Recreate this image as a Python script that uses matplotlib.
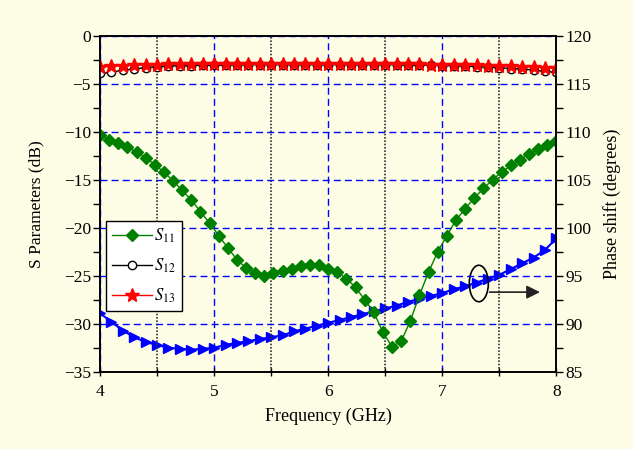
# S parameters and phase shift versus frequency
import matplotlib
matplotlib.use('Agg')
import matplotlib.pyplot as plt
from matplotlib.patches import Ellipse
from matplotlib.ticker import MultipleLocator

plt.rcParams['font.family'] = ['Liberation Serif', 'DejaVu Serif']
plt.rcParams['mathtext.fontset'] = 'stix'

# S11 sampled every 0.08 GHz
freq_s11 = [4.00, 4.08, 4.16, 4.24, 4.32, 4.40, 4.48, 4.56, 4.64, 4.72,
            4.80, 4.88, 4.96, 5.04, 5.12, 5.20, 5.28, 5.36, 5.44, 5.52,
            5.60, 5.68, 5.76, 5.84, 5.92, 6.00, 6.08, 6.16, 6.24, 6.32,
            6.40, 6.48, 6.56, 6.64, 6.72, 6.80, 6.88, 6.96, 7.04, 7.12,
            7.20, 7.28, 7.36, 7.44, 7.52, 7.60, 7.68, 7.76, 7.84, 7.92, 8.00]
s11 = [-10.3, -10.8, -11.2, -11.6, -12.1, -12.7, -13.4, -14.2, -15.1, -16.1,
       -17.1, -18.3, -19.5, -20.8, -22.1, -23.3, -24.2, -24.7, -25.0, -24.7,
       -24.5, -24.3, -24.0, -23.9, -23.9, -24.3, -24.6, -25.3, -26.2, -27.5,
       -28.8, -30.9, -32.4, -31.8, -29.7, -27.0, -24.6, -22.5, -20.8, -19.2,
       -18.0, -16.9, -15.9, -15.0, -14.2, -13.5, -12.9, -12.3, -11.8, -11.4, -11.0]

# S12, S13 and phase sampled every 0.1 GHz
freq = [4.0, 4.1, 4.2, 4.3, 4.4, 4.5, 4.6, 4.7, 4.8, 4.9,
        5.0, 5.1, 5.2, 5.3, 5.4, 5.5, 5.6, 5.7, 5.8, 5.9,
        6.0, 6.1, 6.2, 6.3, 6.4, 6.5, 6.6, 6.7, 6.8, 6.9,
        7.0, 7.1, 7.2, 7.3, 7.4, 7.5, 7.6, 7.7, 7.8, 7.9, 8.0]
s12 = [-3.9, -3.8, -3.55, -3.45, -3.3, -3.2, -3.15, -3.1, -3.1, -3.05,
       -3.05, -3.05, -3.0, -3.0, -3.0, -3.0, -3.0, -3.0, -3.0, -3.0,
       -3.0, -3.0, -3.0, -3.0, -3.0, -3.0, -3.0, -3.05, -3.05, -3.05,
       -3.1, -3.1, -3.15, -3.2, -3.25, -3.3, -3.4, -3.45, -3.55, -3.7, -3.8]
s13 = [-3.2, -3.15, -3.1, -3.05, -3.0, -3.0, -2.95, -2.95, -2.95, -2.95,
       -2.95, -2.95, -2.95, -2.95, -2.95, -2.95, -2.95, -2.95, -2.95, -2.95,
       -2.95, -2.95, -2.95, -2.95, -2.95, -2.95, -2.95, -2.95, -2.95, -3.0,
       -3.0, -3.0, -3.05, -3.05, -3.1, -3.1, -3.15, -3.2, -3.25, -3.3, -3.35]
phase = [91.1, 90.2, 89.3, 88.6, 88.1, 87.8, 87.5, 87.4, 87.3, 87.4,
         87.5, 87.8, 88.0, 88.2, 88.4, 88.6, 88.8, 89.2, 89.5, 89.8,
         90.1, 90.4, 90.7, 91.0, 91.3, 91.6, 91.9, 92.3, 92.6, 92.9,
         93.2, 93.6, 93.9, 94.3, 94.7, 95.1, 95.7, 96.3, 96.9, 97.7, 98.9]

bg = '#fdfde6'
fig = plt.figure(figsize=(6.33, 4.49), dpi=100, facecolor=bg)
ax = fig.add_axes([0.158, 0.172, 0.721, 0.748])
ax2 = ax.twinx()

# blue phase curve on the right axis, drawn under the left axis content
ax2.plot(freq, phase, color='blue', lw=1.5, marker='>', ms=7.5, zorder=2)
ax.set_zorder(ax2.get_zorder() + 1)
ax.patch.set_visible(False)
ax2.set_facecolor('white')

ax.plot(freq_s11, s11, color='green', lw=1, marker='D', ms=6.5, label='$S_{11}$')
ax.plot(freq, s12, color='black', lw=1, marker='o', ms=6, mfc='white', mew=1,
        label='$S_{12}$')
ax.plot(freq, s13, color='red', lw=1, marker='*', ms=10, label='$S_{13}$')

ax.set_xlim(4, 8)
ax.set_ylim(-35, 0)
ax2.set_ylim(85, 120)
ax.xaxis.set_major_locator(MultipleLocator(1))
ax.xaxis.set_minor_locator(MultipleLocator(0.5))
ax.yaxis.set_major_locator(MultipleLocator(5))
ax.yaxis.set_minor_locator(MultipleLocator(2.5))
ax2.yaxis.set_major_locator(MultipleLocator(5))
ax2.yaxis.set_minor_locator(MultipleLocator(2.5))

ax.grid(True, which='major', color='blue', ls=(0, (5, 3)), lw=1)
ax.grid(True, which='minor', axis='x', color='#333333', ls=(0, (1, 1)), lw=1.2)
ax.set_axisbelow(True)

for a in (ax, ax2):
    a.tick_params(which='both', direction='out', length=5, width=1,
                  labelsize=12.5, pad=1.5)
    for sp in a.spines.values():
        sp.set_linewidth(1.2)
ax.tick_params(axis='x', which='both', direction='inout', length=6, pad=6)

ax.set_xlabel('Frequency (GHz)', fontsize=13, labelpad=5)
ax.set_ylabel('S Parameters (dB)', fontsize=12.5, labelpad=14)
ax2.set_ylabel('Phase shift (degrees)', fontsize=13, labelpad=8)

leg = ax.legend(loc='lower left', bbox_to_anchor=(0.013, 0.18), fontsize=12,
                frameon=True, fancybox=False, edgecolor='black', framealpha=1,
                handlelength=2.4, handletextpad=0.15, borderpad=0.35,
                labelspacing=0.7, borderaxespad=0)
leg.get_frame().set_linewidth(1)

# ellipse and arrow marking the phase curve
ax2.add_patch(Ellipse((7.32, 94.2), 0.167, 3.8, fill=False, ec='black', lw=1.2, zorder=5))
ax2.annotate('', xy=(7.88, 93.3), xytext=(7.39, 93.3),
             arrowprops=dict(arrowstyle='-|>', color='#222222', lw=1.2,
                             mutation_scale=20))

fig.savefig('out.png', dpi=100, facecolor=bg)
